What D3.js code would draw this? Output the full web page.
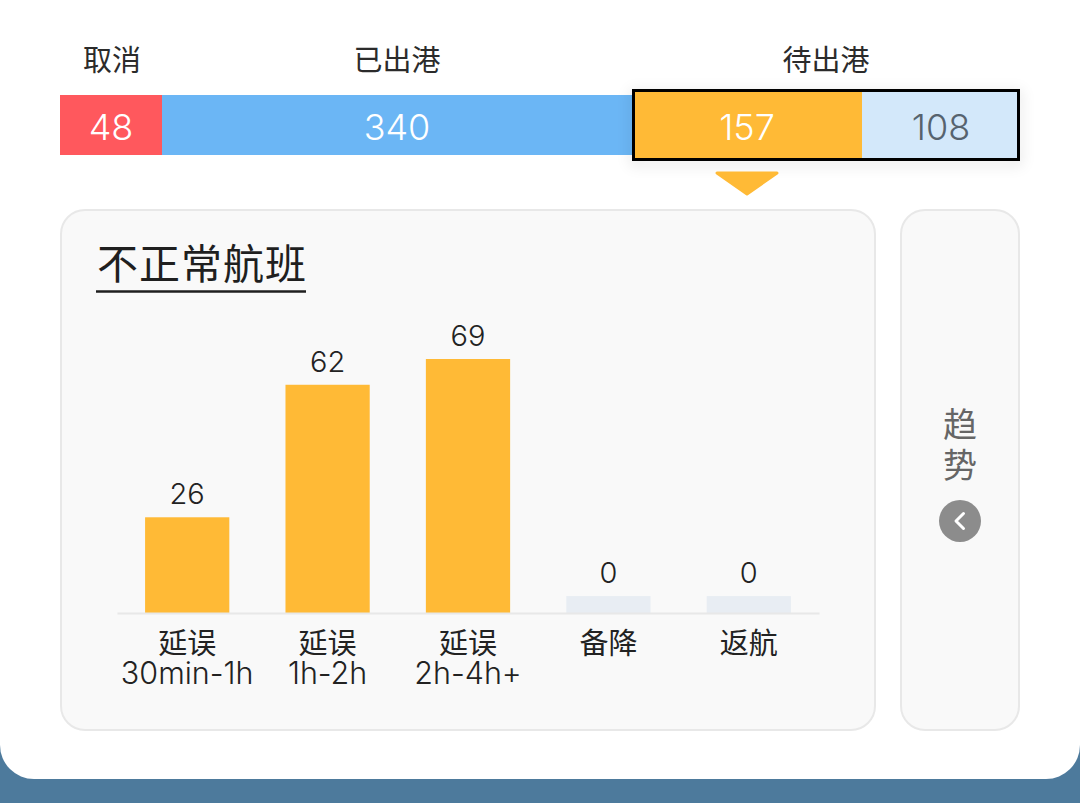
<!DOCTYPE html>
<html>
<head>
<meta charset="utf-8">
<script src="https://cdn.jsdelivr.net/npm/d3@7/dist/d3.min.js"></script>
<style>
html,body{margin:0;padding:0;background:#fff;}
svg{display:block;}
text,tspan{font-family:"Inter","Noto Sans CJK SC",sans-serif;font-weight:350;}
.cjk{font-family:"Noto Sans CJK SC",sans-serif;font-weight:400;}
</style>
</head>
<body>
<svg id="chart" width="1080" height="803"></svg>
<script>
// Flight status strip
const statusValues = [48, 340, 157, 108];
const statusFills = ["#ff585d", "#6bb6f5", "#ffba36", "#d3e8fa"];
const statusTextFills = ["#ffffff", "#ffffff", "#ffffff", "#56636e"];
const groupLabels = [
  {text: "取消", from: 0, to: 1},
  {text: "已出港", from: 1, to: 2},
  {text: "待出港", from: 2, to: 4}
];

// Irregular flight breakdown
const delayCategories = [["延误", "30min-1h"], ["延误", "1h-2h"], ["延误", "2h-4h+"], ["备降"], ["返航"]];
const delayValues = [26, 62, 69, 0, 0];
const emptyBarStub = 4.6; // placeholder height, in value units, for zero bars
const panelTitle = "不正常航班";
const sideTitle = ["趋", "势"];

const svg = d3.select("#chart");

const defs = svg.append("defs");
const shadow = defs.append("filter").attr("id", "boxShadow")
  .attr("x", "-10%").attr("y", "-40%").attr("width", "120%").attr("height", "180%");
shadow.append("feDropShadow").attr("dx", 0).attr("dy", 3).attr("stdDeviation", 7)
  .attr("flood-color", "#000").attr("flood-opacity", 0.22);

// Page backdrop and rounded card
svg.append("rect").attr("width", 1080).attr("height", 803).attr("fill", "#4d7a9c");
svg.append("rect").attr("x", 0).attr("y", -60).attr("width", 1080).attr("height", 839)
  .attr("rx", 34).attr("fill", "#fff");

// The strip is a stacked bar with a piecewise scale: small segments keep a readable width
const cumulative = d3.cumsum(statusValues);
const stripX = d3.scaleLinear()
  .domain([0, ...cumulative])
  .range([60, 162, 632, 862, 1020]);
const starts = [0, ...cumulative];
const stripY = 95, stripH = 60;

const strip = svg.append("g");
strip.selectAll("rect").data(statusValues).join("rect")
  .attr("x", (d, i) => stripX(starts[i]))
  .attr("y", stripY)
  .attr("width", (d, i) => stripX(starts[i + 1]) - stripX(starts[i]))
  .attr("height", stripH)
  .attr("fill", (d, i) => statusFills[i]);

// Highlight frame around the pending group
const frameLeft = stripX(starts[2]), frameRight = stripX(starts[4]);
svg.append("rect")
  .attr("x", frameLeft + 1.5).attr("y", 90.5)
  .attr("width", frameRight - frameLeft - 3).attr("height", 69)
  .attr("fill", "none").attr("stroke", "#000").attr("stroke-width", 3)
  .attr("filter", "url(#boxShadow)");
svg.append("rect")
  .attr("x", frameLeft + 3).attr("y", 92)
  .attr("width", stripX(starts[3]) - frameLeft - 3).attr("height", 66)
  .attr("fill", statusFills[2]);
svg.append("rect")
  .attr("x", stripX(starts[3])).attr("y", 92)
  .attr("width", frameRight - stripX(starts[3]) - 3).attr("height", 66)
  .attr("fill", statusFills[3]);

svg.append("g").selectAll("text").data(statusValues).join("text")
  .attr("x", (d, i) => (stripX(starts[i]) + stripX(starts[i + 1])) / 2)
  .attr("y", 140)
  .attr("text-anchor", "middle")
  .attr("font-size", 36)
  .attr("fill", (d, i) => statusTextFills[i])
  .text(d => d);

svg.append("g").selectAll("text").data(groupLabels).join("text")
  .attr("class", "cjk")
  .attr("x", d => (stripX(starts[d.from]) + stripX(starts[d.to])) / 2 + (d.from === 0 ? 1 : 0))
  .attr("y", 71)
  .attr("text-anchor", "middle")
  .attr("font-size", 29)
  .attr("fill", "#2b2b2b")
  .text(d => d.text);

// Pointer from the selected segment down to the panel
const pointerX = (stripX(starts[2]) + stripX(starts[3])) / 2;
svg.append("path")
  .attr("d", d3.line()([[pointerX - 30, 173], [pointerX + 30, 173], [pointerX, 194]]) + "Z")
  .attr("fill", statusFills[2])
  .attr("stroke", statusFills[2]).attr("stroke-width", 3).attr("stroke-linejoin", "round");

// Panels
svg.append("rect").attr("x", 61).attr("y", 210).attr("width", 814).attr("height", 520)
  .attr("rx", 24).attr("fill", "#f9f9f9").attr("stroke", "#e8e8e8").attr("stroke-width", 2);
svg.append("rect").attr("x", 901).attr("y", 210).attr("width", 118).attr("height", 520)
  .attr("rx", 24).attr("fill", "#f9f9f9").attr("stroke", "#e8e8e8").attr("stroke-width", 2);

// Panel title with underline
svg.append("text").attr("class", "cjk").attr("x", 97).attr("y", 279)
  .attr("font-size", 41).attr("letter-spacing", 1).attr("fill", "#1f1f1f").text(panelTitle);
svg.append("line").attr("x1", 96).attr("x2", 306).attr("y1", 291.5).attr("y2", 291.5)
  .attr("stroke", "#1f1f1f").attr("stroke-width", 2.5);

// Bar chart
const x = d3.scaleBand().domain(d3.range(delayValues.length)).range([117, 819])
  .paddingInner(0.4).paddingOuter(0.2);
const y = d3.scaleLinear().domain([0, 69]).range([613, 359]);

const chart = svg.append("g");
chart.selectAll("rect").data(delayValues).join("rect")
  .attr("x", (d, i) => x(i))
  .attr("width", x.bandwidth())
  .attr("y", d => y(d || emptyBarStub))
  .attr("height", d => y(0) - y(d || emptyBarStub))
  .attr("fill", d => d ? "#ffba36" : "#e8edf3");

chart.append("g").selectAll("text").data(delayValues).join("text")
  .attr("x", (d, i) => x(i) + x.bandwidth() / 2)
  .attr("y", d => y(d || emptyBarStub) - 13)
  .attr("text-anchor", "middle")
  .attr("font-size", 29)
  .attr("fill", "#222")
  .text(d => d);

const axis = svg.append("g").attr("transform", `translate(0,${y(0)})`)
  .call(d3.axisBottom(x).tickSize(0).tickFormat(""));
axis.select(".domain").attr("stroke", "#e8e8e8").attr("stroke-width", 2);
axis.selectAll(".tick text").remove();
axis.selectAll(".tick").append("text")
  .attr("text-anchor", "middle")
  .attr("fill", "#222")
  .selectAll("tspan").data(i => delayCategories[i]).join("tspan")
  .attr("class", (d, j) => j ? null : "cjk")
  .attr("font-size", (d, j) => j ? 30.5 : 29)
  .attr("x", 0)
  .attr("y", (d, j) => 41 + j * 30)
  .text(d => d);

// Side trend tab
svg.append("g").selectAll("text").data(sideTitle).join("text")
  .attr("class", "cjk")
  .attr("x", 960)
  .attr("y", (d, i) => 437 + i * 41)
  .attr("text-anchor", "middle")
  .attr("font-size", 34)
  .attr("fill", "#666")
  .text(d => d);
svg.append("circle").attr("cx", 960).attr("cy", 521).attr("r", 21).attr("fill", "#8c8c8c");
svg.append("path").attr("d", "M963.5 513.5L956 521L963.5 528.5")
  .attr("fill", "none").attr("stroke", "#fff").attr("stroke-width", 3)
  .attr("stroke-linecap", "round").attr("stroke-linejoin", "round");
</script>
</body>
</html>
